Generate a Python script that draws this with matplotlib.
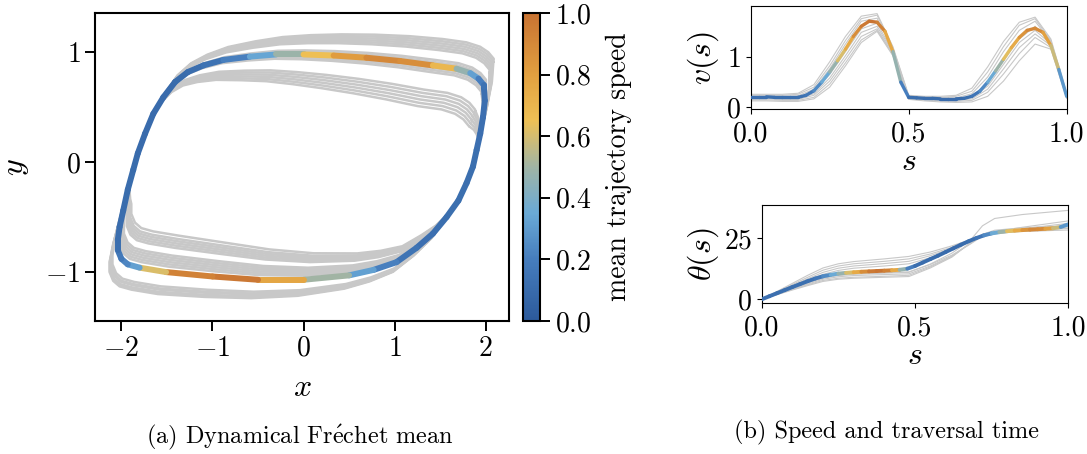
import numpy as np
import matplotlib
matplotlib.use("Agg")
import matplotlib.pyplot as plt
from matplotlib.collections import LineCollection
from matplotlib.colors import LinearSegmentedColormap, Normalize
from matplotlib.cm import ScalarMappable

plt.rcParams['font.family'] = 'serif'
plt.rcParams['font.serif'] = ['cmr10']
plt.rcParams['mathtext.fontset'] = 'cm'
plt.rcParams['axes.formatter.use_mathtext'] = True

# ---- mean trajectory, clockwise from the right corner
loop_x = [1.98, 1.99, 1.97, 1.94, 1.90, 1.86, 1.79, 1.70, 1.57, 1.42, 1.24, 1.02,
          0.77, 0.50, 0.00, -0.50, -1.00, -1.51, -1.80, -1.93, -2.00, -2.04,
          -2.04, -2.02, -1.98, -1.93, -1.87, -1.82, -1.74, -1.65, -1.54, -1.41,
          -1.27, -1.10, -0.88, -0.59, -0.30, 0.00, 0.33, 0.69, 1.06, 1.42,
          1.68, 1.83, 1.92, 1.98]
loop_y = [0.68, 0.56, 0.41, 0.26, 0.11, -0.04, -0.19, -0.35, -0.50, -0.65, -0.78, -0.91,
          -0.98, -1.03, -1.07, -1.07, -1.04, -1.00, -0.96, -0.93, -0.88, -0.80,
          -0.71, -0.59, -0.44, -0.25, -0.07, 0.08, 0.26, 0.44, 0.59, 0.73,
          0.82, 0.88, 0.93, 0.96, 0.98, 0.98, 0.97, 0.95, 0.92, 0.88,
          0.85, 0.81, 0.76, 0.70]

# spread of the grey sample trajectories: offset of the upper / lower fast branch
# at its far end (values read from the bundle edges)
gray_du = [0.24, 0.22, 0.20, 0.18, 0.16, 0.14, 0.05, 0.03, 0.01, -0.02, -0.04, -0.06,
           -0.22, -0.25, -0.28, -0.31, -0.34, -0.37]
gray_dl = [-0.20, -0.19, -0.18, -0.16, -0.15, -0.13, 0.05, 0.07, 0.09, 0.11, 0.13, 0.15,
           0.22, 0.24, 0.26, 0.28, 0.30, 0.33]

# ---- speed v(s) and traversal time theta(s) of the mean
s_mean = np.linspace(0, 1, 41)
v_mean = [0.21, 0.21, 0.21, 0.20, 0.20, 0.20, 0.20, 0.24, 0.33, 0.50, 0.70, 0.92,
          1.15, 1.40, 1.60, 1.70, 1.68, 1.50, 1.10, 0.50, 0.20, 0.19, 0.18, 0.18,
          0.17, 0.17, 0.17, 0.18, 0.22, 0.32, 0.50, 0.72, 0.95, 1.18, 1.38, 1.52,
          1.56, 1.48, 1.22, 0.75, 0.22]
theta_mean = [0.0, 1.25, 2.5, 3.75, 5.0, 6.2, 7.4, 8.5, 9.4, 10.0, 10.5, 10.8,
              11.05, 11.25, 11.4, 11.55, 11.7, 11.85, 12.05, 12.5, 13.6, 15.0, 16.4, 17.8,
              19.3, 20.8, 22.3, 23.7, 25.0, 26.1, 26.9, 27.4, 27.8, 28.05, 28.25, 28.45,
              28.6, 28.8, 29.0, 29.5, 30.6]

s_v = np.linspace(0, 1, 21)
v_gray = [
    [.26, .26, .26, .28, .45, .90, 1.40, 1.80, 1.85, 1.20, .24, .22, .22, .24, .38, .80, 1.30, 1.68, 1.78, 1.35, .28],
    [.24, .24, .24, .26, .40, .82, 1.32, 1.75, 1.82, 1.18, .22, .21, .20, .22, .32, .70, 1.20, 1.62, 1.75, 1.32, .26],
    [.22, .22, .22, .23, .36, .76, 1.25, 1.70, 1.76, 1.15, .21, .20, .19, .19, .27, .60, 1.10, 1.52, 1.70, 1.30, .24],
    [.20, .20, .19, .19, .30, .65, 1.10, 1.55, 1.66, 1.10, .20, .18, .17, .17, .22, .48, .92, 1.35, 1.60, 1.28, .22],
    [.19, .19, .18, .18, .27, .58, 1.02, 1.48, 1.60, 1.08, .19, .17, .16, .16, .20, .42, .85, 1.28, 1.52, 1.25, .21],
    [.17, .17, .16, .16, .24, .52, .95, 1.40, 1.55, 1.05, .18, .16, .15, .14, .17, .36, .76, 1.18, 1.45, 1.22, .20],
    [.15, .15, .14, .14, .20, .46, .88, 1.33, 1.52, 1.04, .17, .15, .13, .12, .14, .30, .66, 1.06, 1.38, 1.18, .19],
    [.13, .13, .12, .12, .17, .40, .82, 1.28, 1.50, 1.02, .16, .13, .11, .10, .11, .22, .52, .92, 1.25, 1.15, .18],
]

s_th = [0, .05, .1, .15, .2, .25, .3, .4, .48, .55, .62, .68, .72, .76, .85, 1.0]
theta_gray = [
    [0, 3.2, 6.5, 9.8, 12.8, 14.5, 15.4, 16.5, 17.5, 19.3, 21.8, 24.3, 25.8, 26.8, 27.8, 29.0],
    [0, 3.0, 6.0, 9.0, 11.9, 13.6, 14.5, 15.5, 16.5, 18.5, 21.2, 24.0, 25.6, 26.7, 28.0, 29.6],
    [0, 2.8, 5.6, 8.4, 11.0, 12.7, 13.6, 14.6, 15.5, 17.8, 20.8, 23.8, 25.5, 26.8, 28.4, 30.2],
    [0, 2.6, 5.2, 7.8, 10.2, 11.8, 12.7, 13.6, 14.5, 17.0, 20.3, 23.6, 25.6, 27.0, 28.8, 31.0],
    [0, 2.3, 4.6, 6.9, 9.0, 10.0, 10.5, 10.9, 11.2, 14.2, 18.0, 22.5, 25.8, 27.6, 29.4, 32.0],
    [0, 2.1, 4.2, 6.2, 8.2, 9.2, 9.7, 10.1, 10.4, 13.6, 17.6, 22.8, 26.5, 28.2, 29.2, 30.0],
    [0, 2.0, 4.0, 5.9, 7.7, 8.6, 9.0, 9.4, 9.8, 13.2, 17.4, 23.0, 26.6, 27.8, 28.4, 29.0],
    [0, 2.2, 4.4, 6.6, 8.6, 9.7, 10.2, 10.7, 11.0, 14.4, 18.8, 24.0, 30.0, 33.0, 34.6, 36.3],
    [0, 1.9, 3.8, 5.6, 7.3, 8.2, 8.6, 9.0, 9.3, 12.8, 17.2, 23.0, 26.0, 27.0, 27.7, 28.3],
]

cmap = LinearSegmentedColormap.from_list('speed', [
    (0.0, '#2c5a9b'), (0.2, '#467dbd'), (0.35, '#6aaad6'), (0.5, '#a0b4a5'),
    (0.65, '#eec055'), (0.8, '#e2a040'), (1.0, '#c87332')])
norm = Normalize(0, 1)

v_mean = np.array(v_mean)
theta_mean = np.array(theta_mean)
speed_c = v_mean / v_mean.max()
GREY = '#c8c8c8'


def colored_line(ax, x, y, c, lw):
    pts = np.column_stack([x, y]).reshape(-1, 1, 2)
    segs = np.concatenate([pts[:-1], pts[1:]], axis=1)
    lc = LineCollection(segs, cmap=cmap, norm=norm, linewidths=lw, capstyle='round', zorder=3)
    lc.set_array(np.asarray(c))
    ax.add_collection(lc)


fig = plt.figure(figsize=(10.87, 4.54), dpi=100)

# ---- (a) left panel
ax = fig.add_axes([0.0874, 0.293, 0.3809, 0.6784])
lx = np.array(loop_x + loop_x[:1])
ly = np.array(loop_y + loop_y[:1])
# weights: how far along a fast (horizontal) branch a point is
w_up = np.clip((ly - 0.2) / 0.5, 0, 1) * np.sqrt(np.clip((lx + 1.6) / 3.0, 0, 1))
w_lo = np.clip((-ly - 0.2) / 0.5, 0, 1) * np.sqrt(np.clip((1.6 - lx) / 3.0, 0, 1))
for du, dl in zip(gray_du, gray_dl):
    gx = lx + 0.45 * du * w_up + 0.45 * dl * w_lo
    gy = ly + du * w_up + dl * w_lo
    ax.plot(gx, gy, color=GREY, lw=1.8, solid_capstyle='round', zorder=1)

seg_len = np.hypot(np.diff(lx), np.diff(ly))
s_loop = np.concatenate([[0], np.cumsum(seg_len)]) / seg_len.sum()
s_mid = 0.5 * (s_loop[:-1] + s_loop[1:])
colored_line(ax, lx, ly, np.interp(s_mid, s_mean, v_mean) / v_mean.max(), 4.3)

ax.set_xlim(-2.29, 2.256)
ax.set_ylim(-1.445, 1.357)
ax.set_xticks([-2, -1, 0, 1, 2])
ax.set_yticks([-1, 0, 1])
ax.tick_params(labelsize=20, length=7, width=1.4)
for sp in ax.spines.values():
    sp.set_linewidth(1.5)
ax.set_xlabel('$x$', fontsize=23, labelpad=9)
ax.set_ylabel('$y$', fontsize=23, labelpad=10)

cax = fig.add_axes([0.4809, 0.293, 0.0159, 0.6784])
cb = fig.colorbar(ScalarMappable(norm=norm, cmap=cmap), cax=cax)
cb.set_ticks([0, 0.2, 0.4, 0.6, 0.8, 1.0])
cb.ax.tick_params(labelsize=20, length=7, width=1.4)
cb.outline.set_linewidth(1.5)
cb.set_label('mean trajectory speed', fontsize=20, labelpad=10)

# ---- (b) speed
ax2 = fig.add_axes([0.6906, 0.7599, 0.2907, 0.2269])
for g in v_gray:
    ax2.plot(s_v, g, color=GREY, lw=0.8, zorder=1)
colored_line(ax2, s_mean, v_mean, 0.5 * (speed_c[:-1] + speed_c[1:]), 2.4)
ax2.set_xlim(0, 1)
ax2.set_ylim(-0.03, 2.0)
ax2.set_xticks([0, 0.5, 1.0])
ax2.set_xticklabels(['0.0', '0.5', '1.0'])
ax2.set_yticks([0, 1])
ax2.tick_params(labelsize=20)
ax2.tick_params(axis='x', pad=5)
ax2.set_xlabel('$s$', fontsize=23, labelpad=1)
ax2.set_ylabel('$v(s)$', fontsize=23, labelpad=4)

# ---- (b) traversal time
ax3 = fig.add_axes([0.7007, 0.3326, 0.2821, 0.2159])
for g in theta_gray:
    ax3.plot(s_th, g, color=GREY, lw=0.8, zorder=1)
colored_line(ax3, s_mean, theta_mean, 0.5 * (speed_c[:-1] + speed_c[1:]), 2.8)
ax3.set_xlim(0, 1)
ax3.set_ylim(-1.5, 38.5)
ax3.set_xticks([0, 0.5, 1.0])
ax3.set_xticklabels(['0.0', '0.5', '1.0'])
ax3.set_yticks([0, 25])
ax3.tick_params(labelsize=20)
ax3.tick_params(axis='x', pad=5)
ax3.set_xlabel('$s$', fontsize=23, labelpad=1)
ax3.set_ylabel(r'$\theta(s)$', fontsize=23, labelpad=2)

fig.text(0.276, 0.037, r'(a) Dynamical Fr$\mathrm{\acute{e}}$chet mean', fontsize=17.5, ha='center', va='center')
fig.text(0.816, 0.048, '(b) Speed and traversal time', fontsize=17.5, ha='center', va='center')

fig.savefig('out.png', dpi=100)
